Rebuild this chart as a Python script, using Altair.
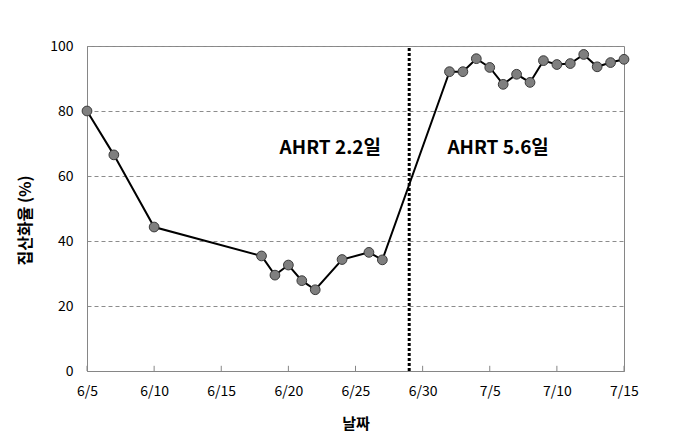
import altair as alt
import pandas as pd

dates = ["2023-06-05", "2023-06-07", "2023-06-10", "2023-06-18", "2023-06-19",
         "2023-06-20", "2023-06-21", "2023-06-22", "2023-06-24", "2023-06-26",
         "2023-06-27", "2023-07-02", "2023-07-03", "2023-07-04", "2023-07-05",
         "2023-07-06", "2023-07-07", "2023-07-08", "2023-07-09", "2023-07-10",
         "2023-07-11", "2023-07-12", "2023-07-13", "2023-07-14", "2023-07-15"]
values = [80.0, 66.5, 44.3, 35.4, 29.5, 32.6, 27.8, 25.0, 34.3, 36.5,
          34.2, 92.1, 92.1, 96.1, 93.4, 88.2, 91.3, 88.8, 95.5, 94.3,
          94.6, 97.4, 93.6, 94.9, 95.9]
tick_dates = ["2023-06-05", "2023-06-10", "2023-06-15", "2023-06-20", "2023-06-25",
              "2023-06-30", "2023-07-05", "2023-07-10", "2023-07-15"]
divider_date = ["2023-06-29"]
notes = ["AHRT 2.2일", "AHRT 5.6일"]
note_dates = ["2023-06-23T03:00:00", "2023-07-05T15:00:00"]
note_y = [68.5, 68.5]

FONT = "Noto Sans CJK KR"

df = pd.DataFrame({"date": dates, "value": values})
ticks_df = pd.DataFrame({"date": tick_dates, "y0": [0] * len(tick_dates), "y1": [1.6] * len(tick_dates)})
div_df = pd.DataFrame({"date": divider_date, "y0": [0], "y1": [100]})
note_df = pd.DataFrame({"date": note_dates, "y": note_y, "text": notes})

def dt(s):
    y, m, d = s.split("-")
    return alt.DateTime(year=int(y), month=int(m), date=int(d), utc=True)

xscale = alt.Scale(type="utc", domain=[dt(tick_dates[0]), dt(tick_dates[-1])])
yscale = alt.Scale(domain=[0, 100])

xaxis = alt.Axis(values=[dt(s) for s in tick_dates],
                 labelExpr="utcFormat(datum.value, '%-m/%-d')",
                 title="날짜", titleFont=FONT, titleFontSize=15, titleFontWeight="bold",
                 titleColor="black", titlePadding=18, labelFont=FONT, labelFontSize=14,
                 labelColor="black", labelPadding=13, tickSize=0, domainColor="#868686",
                 grid=False, labelFlush=False)
yaxis = alt.Axis(values=[0, 20, 40, 60, 80, 100], title="집산화율 (%)", titleFont=FONT,
                 titleFontSize=16, titleFontWeight="bold", titleColor="black",
                 titleX=-62, titleY=174, titleAngle=270, titleAlign="center",
                 titleBaseline="middle",
                 labelFont=FONT, labelFontSize=14, labelColor="black", labelPadding=14,
                 tickSize=0, domainColor="#868686", grid=True, gridColor="#8c8c8c",
                 gridDash=[4, 3], gridWidth=1)

X = alt.X("date:T", scale=xscale, axis=xaxis)

tick_marks = alt.Chart(ticks_df).mark_rule(color="#868686", strokeWidth=1).encode(
    x=X, y=alt.Y("y0:Q", scale=yscale, axis=yaxis), y2="y1:Q")
divider = alt.Chart(div_df).mark_rule(color="black", strokeWidth=3, strokeDash=[3, 2]).encode(
    x=X, y=alt.Y("y0:Q", scale=yscale, axis=yaxis), y2="y1:Q")
line = alt.Chart(df).mark_line(color="black", strokeWidth=2).encode(
    x=X, y=alt.Y("value:Q", scale=yscale, axis=yaxis))
pts = alt.Chart(df).mark_point(filled=True, fill="#7f7f7f", stroke="#3a3a3a", strokeWidth=1,
                               size=95, opacity=1).encode(
    x=X, y=alt.Y("value:Q", scale=yscale, axis=yaxis))
labels = alt.Chart(note_df).mark_text(font=FONT, fontSize=19, fontWeight="bold", color="black").encode(
    x=X, y=alt.Y("y:Q", scale=yscale, axis=yaxis), text="text:N")

chart = alt.layer(tick_marks, divider, line, pts, labels).properties(
    width=537, height=325,
    autosize=alt.AutoSizeParams(type="none"),
    padding={"left": 87, "top": 46, "right": 52, "bottom": 72},
    background="white",
).configure_view(stroke="#868686", strokeWidth=1)

chart.save("out.html", embed_options={"renderer": "svg", "actions": False})
